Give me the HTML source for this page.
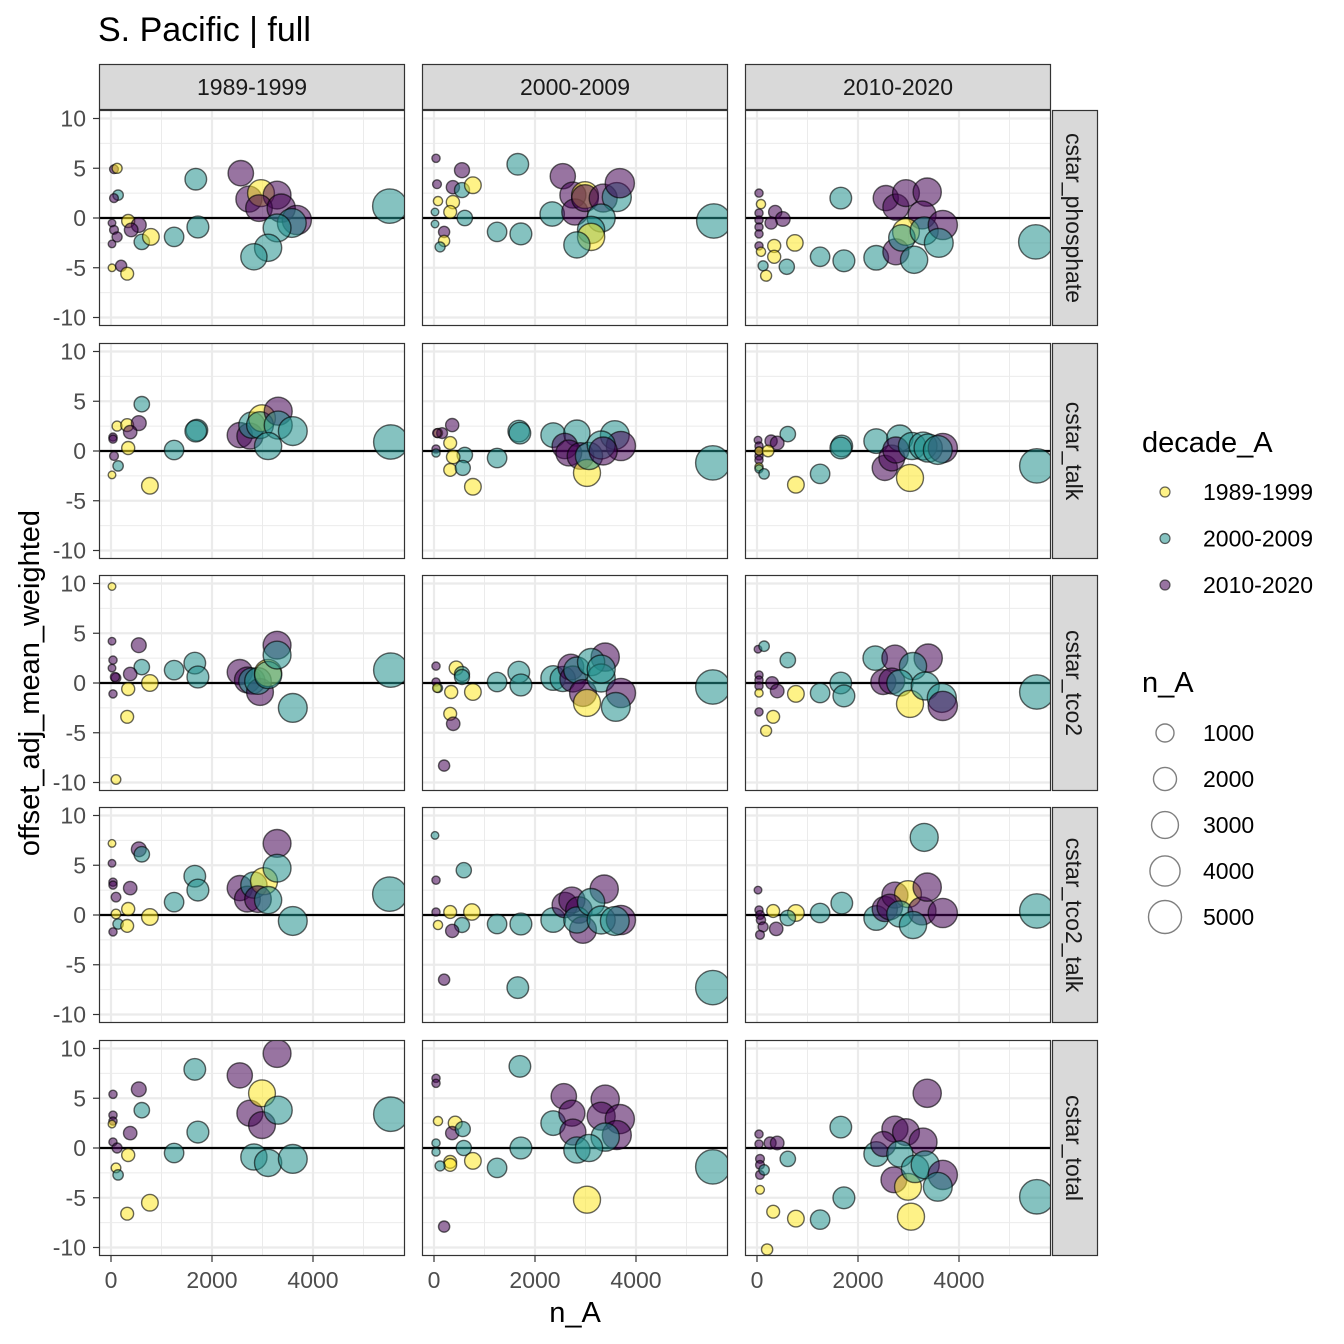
<!DOCTYPE html>
<html><head><meta charset="utf-8">
<style>
html,body{margin:0;padding:0;background:#fff;}
svg{display:block;font-family:"Liberation Sans",Arial,sans-serif;}
</style></head>
<body>
<svg id="chart" width="1344" height="1344" viewBox="0 0 1344 1344" xmlns="http://www.w3.org/2000/svg">
<text x="98" y="41" font-size="34" fill="#000">S. Pacific | full</text>
<text x="575" y="1322" font-size="29" text-anchor="middle" fill="#000">n_A</text>
<text x="39" y="683" font-size="29" text-anchor="middle" fill="#000" transform="rotate(-90 39 683)">offset_adj_mean_weighted</text>
<g id="panels"></g>
<g id="legend"></g>
</svg>
<script>
// categories
const columnLabels = ["1989-1999", "2000-2009", "2010-2020"];
const rowLabels = ["cstar_phosphate", "cstar_talk", "cstar_tco2", "cstar_tco2_talk", "cstar_total"];
const decadeLabels = ["1989-1999", "2000-2009", "2010-2020"];
const decadeColors = ["#FDE725", "#21908C", "#440154"];
const xTicks = [0, 2000, 4000];
const xTickLabels = ["0", "2000", "4000"];
const yTicks = [10, 5, 0, -5, -10];
const yTickLabels = ["10", "5", "0", "-5", "-10"];
const sizeBreaks = [1000, 2000, 3000, 4000, 5000];

// series: [n_A, offset, decadeIndex]
const phosphate_c1 = [[60,4.9,2],[120,5.0,0],[140,2.3,1],[60,2.0,2],[340,-0.3,0],[550,-0.7,2],[20,-0.5,2],[400,-1.2,2],[60,-1.2,2],[120,-1.9,2],[20,-2.6,2],[610,-2.4,1],[790,-1.9,0],[1250,-1.9,1],[1720,-0.9,1],[1680,3.9,1],[20,-5,0],[200,-4.8,2],[320,-5.6,0],[2570,4.5,2],[2730,1.9,2],[2970,2.5,0],[3290,2.3,2],[2930,1.0,2],[3370,1.0,2],[3680,-0.2,2],[3580,-0.5,1],[3290,-1.0,1],[3110,-3.0,1],[2830,-3.9,1],[5520,1.2,1]];
const phosphate_c2 = [[40,6.0,2],[555,4.8,2],[60,3.4,2],[375,3.1,2],[555,2.8,1],[770,3.3,0],[80,1.7,0],[375,1.6,0],[320,0.6,0],[20,0.6,1],[610,0,1],[20,-0.6,1],[200,-1.4,2],[200,-2.3,0],[120,-2.9,1],[1660,5.4,1],[1250,-1.4,1],[1720,-1.6,1],[2550,4.2,2],[2340,0.4,1],[2750,2.3,2],[2790,0.6,2],[2990,2.3,0],[2990,2.0,2],[3350,2.0,2],[3620,2.1,1],[3680,3.5,2],[3310,0,1],[3110,-1.2,1],[3110,-1.9,0],[2830,-2.7,1],[5540,-0.3,1]];
const phosphate_c3 = [[40,2.5,2],[80,1.4,0],[40,0.5,2],[40,-0.2,2],[40,-0.9,2],[40,-1.6,2],[360,0.6,2],[510,-0.1,2],[280,-0.5,2],[40,-2.8,2],[80,-3.4,0],[340,-2.8,0],[340,-3.9,0],[120,-4.8,1],[180,-5.8,0],[590,-4.9,1],[750,-2.5,0],[1250,-3.9,1],[1720,-4.3,1],[1660,2.0,1],[2360,-4.0,1],[2550,2.0,2],[2750,1.1,2],[2950,2.5,2],[3370,2.6,2],[3270,0.3,2],[2750,-3.4,2],[2950,-1.4,0],[2870,-2.0,1],[3310,-1.3,1],[3680,-0.7,2],[3600,-2.5,1],[3110,-4.2,1],[5520,-2.4,1]];
const talk_c1 = [[610,4.7,1],[120,2.5,0],[320,2.6,0],[550,2.8,2],[380,1.9,2],[40,1.4,2],[40,1.2,2],[340,0.3,0],[60,-0.5,2],[140,-1.5,1],[20,-2.4,0],[770,-3.5,0],[1250,0.1,1],[1700,2.1,1],[1680,2.0,1],[2550,1.6,2],[2750,1.5,2],[2790,2.6,1],[2990,3.3,0],[2950,2.6,1],[3310,4.0,2],[3310,2.6,1],[3600,2.0,1],[3110,0.5,1],[5540,0.9,1]];
const talk_c2 = [[360,2.6,2],[80,1.8,0],[160,1.8,2],[60,1.8,2],[320,0.8,0],[40,0.2,2],[40,-0.2,1],[610,-0.4,1],[380,-0.6,0],[320,-1.9,0],[570,-1.7,1],[770,-3.6,0],[1250,-0.7,1],[1680,2.0,1],[1700,1.8,1],[2360,1.6,1],[2830,1.8,1],[2590,0.5,2],[2670,-0.2,2],[2900,-0.5,2],[3030,-2.2,0],[3070,-0.5,1],[3580,1.6,1],[3700,0.5,2],[3310,0.6,1],[3350,0,2],[5520,-1.2,1]];
const talk_c3 = [[610,1.7,1],[20,1.1,2],[280,1.0,2],[400,0.8,2],[40,0.5,2],[40,0,2],[40,-0.5,2],[40,-0.9,2],[40,0,0],[220,0,0],[40,-1.6,0],[40,-1.8,1],[140,-2.3,1],[770,-3.4,0],[1250,-2.3,1],[1680,0.5,1],[1660,0.3,1],[2360,1.0,1],[2530,-1.7,2],[2670,-0.7,2],[2830,1.3,1],[3030,-2.7,0],[2750,0.1,2],[3070,0.5,1],[3290,0.5,1],[3390,0.3,1],[3680,0.3,2],[3580,0.1,1],[5540,-1.5,1]];
const tco2_c1 = [[20,9.7,0],[20,4.2,2],[550,3.8,2],[40,2.3,2],[20,1.5,2],[610,1.6,1],[380,0.9,2],[100,0.5,2],[80,0.6,2],[770,0,0],[340,-0.6,0],[40,-1.1,2],[320,-3.4,0],[100,-9.7,0],[1250,1.3,1],[1660,2.0,1],[1720,0.6,1],[2550,1.1,2],[2700,0.3,2],[2790,0.2,1],[2950,-0.9,2],[2910,0.2,1],[3110,1.0,0],[3110,0.8,1],[3290,3.8,2],[3290,2.8,1],[3600,-2.5,1],[5540,1.3,1]];
const tco2_c2 = [[40,1.7,2],[440,1.5,0],[555,0.9,1],[555,0.6,1],[40,0.1,2],[80,-0.5,1],[60,-0.5,0],[340,-0.9,0],[770,-0.9,0],[320,-3.1,0],[380,-4.1,2],[200,-8.3,2],[1250,0.1,1],[1680,1.1,1],[1720,-0.2,1],[2360,0.5,1],[2550,0.4,1],[2710,1.6,2],[2750,0.4,2],[2830,1.3,1],[2950,-1.0,2],[3030,-2.0,0],[3390,2.6,2],[3110,2.1,1],[3310,0.5,1],[3310,1.4,1],[3700,-1.0,2],[3600,-2.4,1],[5520,-0.4,1]];
const tco2_c3 = [[20,3.4,2],[140,3.7,1],[610,2.3,1],[40,0.8,2],[40,0.3,2],[40,-0.3,2],[300,0,2],[400,-0.8,2],[40,-1.0,0],[40,-2.9,2],[320,-3.4,0],[180,-4.8,0],[770,-1.1,0],[1250,-1.0,1],[1660,0,1],[1720,-1.3,1],[2340,2.5,1],[2730,2.5,2],[3390,2.5,2],[2500,0.1,2],[2670,0.2,2],[3090,1.7,1],[2830,0,1],[3030,-2.1,0],[3330,-0.3,1],[3660,-1.5,1],[3680,-2.3,2],[5540,-0.9,1]];
const tco2talk_c1 = [[20,7.2,0],[550,6.6,2],[610,6.1,1],[20,5.2,2],[40,3.3,2],[40,3.0,2],[380,2.7,2],[100,1.8,2],[340,0.6,0],[100,0.1,0],[770,-0.2,0],[140,-0.9,1],[320,-1.1,0],[40,-1.7,2],[1250,1.3,1],[1660,3.9,1],[1720,2.5,1],[2550,2.7,2],[2700,1.6,2],[2830,3.0,1],[3030,3.4,0],[2910,1.6,2],[3110,1.5,1],[3290,7.2,2],[3290,4.7,1],[3600,-0.6,1],[5520,2.1,1]];
const tco2talk_c2 = [[20,8.0,1],[590,4.5,1],[40,3.5,2],[40,0.3,2],[320,0.3,0],[750,0.3,0],[80,-1.0,0],[555,-1.0,1],[360,-1.6,2],[200,-6.5,2],[1250,-0.9,1],[1720,-0.9,1],[1660,-7.3,1],[2360,-0.5,1],[2590,1.0,2],[2730,1.5,2],[2870,0.5,2],[2950,-1.5,2],[2830,-0.5,1],[3370,2.6,2],[3110,1.3,1],[3310,-0.5,1],[3700,-0.5,2],[3580,-0.6,1],[5520,-7.3,1]];
const tco2talk_c3 = [[20,2.5,2],[40,0.5,2],[60,0,2],[80,-0.5,2],[120,-1.2,2],[60,-2.0,2],[380,-1.4,2],[320,0.4,0],[770,0.2,0],[610,-0.3,1],[1250,0.2,1],[1680,1.2,1],[2360,-0.3,1],[2530,0.6,2],[2730,2.0,2],[2990,2.1,0],[2630,0.8,2],[2830,0.1,1],[3270,0.4,2],[3370,2.8,2],[3090,-1.0,1],[3680,0.2,2],[3310,7.8,1],[5540,0.4,1]];
const total_c1 = [[40,5.4,2],[550,5.9,2],[610,3.8,1],[40,3.3,2],[40,2.7,2],[20,2.4,0],[380,1.5,2],[40,0.6,2],[120,0,2],[340,-0.7,0],[100,-2.0,0],[140,-2.7,1],[770,-5.5,0],[320,-6.6,0],[1250,-0.5,1],[1660,7.9,1],[1720,1.6,1],[2550,7.3,2],[2750,3.5,2],[2990,5.5,0],[2990,2.3,2],[3310,3.8,1],[3290,9.5,2],[2830,-0.9,1],[3110,-1.5,1],[3600,-1.1,1],[5540,3.4,1]];
const total_c2 = [[40,7.0,2],[40,6.5,2],[80,2.7,0],[420,2.5,0],[360,1.5,2],[570,1.9,1],[40,0.5,1],[40,-0.4,1],[590,0,1],[320,-1.4,0],[320,-1.7,0],[120,-1.8,1],[770,-1.3,0],[200,-7.9,2],[1250,-2.0,1],[1720,0,1],[1700,8.2,1],[2360,2.5,1],[2570,5.2,2],[2730,3.5,2],[2750,1.6,2],[3030,-5.2,0],[2830,-0.2,1],[3390,4.9,2],[3310,3.2,2],[3680,2.9,2],[3620,1.3,2],[3390,1.1,1],[3070,0,1],[5520,-1.9,1]];
const total_c3 = [[40,1.4,2],[40,0.4,2],[260,0.5,2],[400,0.5,2],[610,-1.1,1],[60,-1.1,2],[60,-1.7,2],[60,-2.7,2],[140,-2.2,1],[60,-4.2,0],[320,-6.4,0],[770,-7.1,0],[1250,-7.2,1],[200,-10.2,0],[1660,2.1,1],[1720,-5.0,1],[2360,-0.6,1],[2730,1.9,2],[2950,1.6,2],[2500,0.4,2],[3290,0.6,2],[2830,-0.6,1],[2710,-3.2,2],[2990,-3.9,0],[3130,-2.1,1],[3330,-1.7,1],[3680,-2.7,2],[3580,-3.9,1],[3370,5.5,2],[3050,-6.9,0],[5540,-4.9,1]];

const panelData = [
  [phosphate_c1, phosphate_c2, phosphate_c3],
  [talk_c1, talk_c2, talk_c3],
  [tco2_c1, tco2_c2, tco2_c3],
  [tco2talk_c1, tco2talk_c2, tco2talk_c3],
  [total_c1, total_c2, total_c3]
];

const NS = "http://www.w3.org/2000/svg";
const colLeft = [99, 422, 745];
const rowTop = [110, 343, 575, 807, 1040];
const PW = 306, PH = 216;
function xScale(col, n) { return colLeft[col] + 12 + n * 0.0505; }
function yScale(row, v) { return rowTop[row] + 108 - v * 9.95; }
function rScale(n) { return 2.93 + 0.192 * Math.sqrt(Math.max(n, 0)); }
function mk(tag, attrs, parent) {
  const e = document.createElementNS(NS, tag);
  for (const k in attrs) e.setAttribute(k, attrs[k]);
  parent.appendChild(e);
  return e;
}
const root = document.getElementById("panels");

columnLabels.forEach((lab, c) => {
  const g = mk("g", {}, root);
  
  
  mk("rect", {x: colLeft[c] + 0.5, y: 64.5, width: PW - 1, height: 45, fill: "#d9d9d9", stroke: "#333", "stroke-width": 1.2}, g);
  const t = mk("text", {x: colLeft[c] + PW / 2, y: 95, "font-size": 23, "text-anchor": "middle", fill: "#1a1a1a"}, g);
  t.textContent = lab;
});
rowLabels.forEach((lab, r) => {
  const g = mk("g", {}, root);
  
  
  mk("rect", {x: 1052.5, y: rowTop[r] + 0.5, width: 45, height: PH - 1, fill: "#d9d9d9", stroke: "#333", "stroke-width": 1.2}, g);
  const cx = 1066, cy = rowTop[r] + PH / 2;
  const t = mk("text", {x: cx, y: cy, "font-size": 23, "text-anchor": "middle", fill: "#1a1a1a", transform: "rotate(90 " + cx + " " + cy + ")"}, g);
  t.textContent = lab;
});

for (let r = 0; r < 5; r++) {
  for (let c = 0; c < 3; c++) {
    const g = mk("g", {}, root);
    
    
    const L = colLeft[c], T = rowTop[r];
    mk("rect", {x: L, y: T, width: PW, height: PH, fill: "#fff"}, g);
    const clipId = "clip" + r + c;
    const cp = mk("clipPath", {id: clipId}, g);
    mk("rect", {x: L, y: T, width: PW, height: PH}, cp);
    [1000, 3000, 5000].forEach(n => { const x = xScale(c, n); mk("line", {x1: x, x2: x, y1: T, y2: T + PH, stroke: "#ebebeb", "stroke-width": 1}, g); });
    [7.5, 2.5, -2.5, -7.5].forEach(v => { const y = yScale(r, v); mk("line", {x1: L, x2: L + PW, y1: y, y2: y, stroke: "#ebebeb", "stroke-width": 1}, g); });
    xTicks.forEach(n => { const x = xScale(c, n); mk("line", {x1: x, x2: x, y1: T, y2: T + PH, stroke: "#ebebeb", "stroke-width": 2.2}, g); });
    yTicks.forEach(v => { const y = yScale(r, v); mk("line", {x1: L, x2: L + PW, y1: y, y2: y, stroke: "#ebebeb", "stroke-width": 2.2}, g); });
    const zl = mk("line", {x1: L, x2: L + PW, y1: yScale(r, 0), y2: yScale(r, 0), stroke: "#000", "stroke-width": 2.2}, g);
    
    
    const pts = mk("g", {"clip-path": "url(#" + clipId + ")"}, g);
    panelData[r][c].forEach(p => {
      const circ = mk("circle", {cx: xScale(c, p[0]).toFixed(1), cy: yScale(r, p[1]).toFixed(1), r: rScale(p[0]).toFixed(1), fill: decadeColors[p[2]], "fill-opacity": 0.55, stroke: "#000", "stroke-opacity": 0.6, "stroke-width": 1.4}, pts);
      
      
    });
    mk("rect", {x: L + 0.5, y: T + 0.5, width: PW - 1, height: PH - 1, fill: "none", stroke: "#333", "stroke-width": 1.2}, g);
    if (c === 0) {
      yTicks.forEach((v, i) => {
        const y = yScale(r, v);
        mk("line", {x1: L - 6, x2: L, y1: y, y2: y, stroke: "#333", "stroke-width": 1.2}, g);
        const t = mk("text", {x: L - 13, y: y + 8, "font-size": 23, "text-anchor": "end", fill: "#4d4d4d"}, g);
        
        
        t.textContent = yTickLabels[i];
      });
    }
    if (r === 4) {
      xTicks.forEach((n, i) => {
        const x = xScale(c, n);
        mk("line", {x1: x, x2: x, y1: T + PH, y2: T + PH + 6, stroke: "#333", "stroke-width": 1.2}, g);
        const t = mk("text", {x: x, y: T + PH + 32, "font-size": 23, "text-anchor": "middle", fill: "#4d4d4d"}, g);
        
        
        t.textContent = xTickLabels[i];
      });
    }
  }
}

const lg = document.getElementById("legend");
const lt = mk("text", {x: 1142, y: 452, "font-size": 29, fill: "#000"}, lg);


lt.textContent = "decade_A";
decadeLabels.forEach((lab, i) => {
  const y = 492 + i * 46.5;
  const e = mk("g", {}, lg);
  
  
  mk("circle", {cx: 1165, cy: y, r: 5, fill: decadeColors[i], "fill-opacity": 0.55, stroke: "#000", "stroke-opacity": 0.6, "stroke-width": 1.2}, e);
  const t = mk("text", {x: 1203, y: y + 8, "font-size": 23, fill: "#000"}, e);
  t.textContent = lab;
});
const st = mk("text", {x: 1142, y: 692, "font-size": 29, fill: "#000"}, lg);


st.textContent = "n_A";
sizeBreaks.forEach((n, i) => {
  const y = 733 + i * 46;
  const e = mk("g", {}, lg);
  
  
  mk("circle", {cx: 1165, cy: y, r: rScale(n), fill: "none", stroke: "#7f7f7f", "stroke-width": 1.4}, e);
  const t = mk("text", {x: 1203, y: y + 8, "font-size": 23, fill: "#000"}, e);
  t.textContent = String(n);
});
</script>
</body></html>
